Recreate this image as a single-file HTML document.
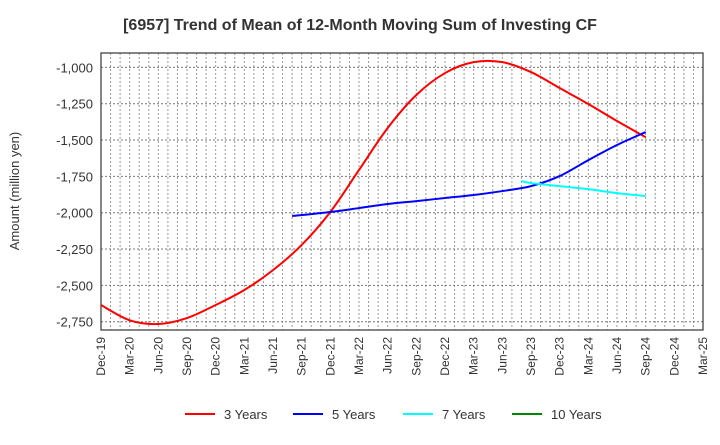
<!DOCTYPE html>
<html><head><meta charset="utf-8"><style>
body{margin:0;background:#fff;font-family:"Liberation Sans",sans-serif}
svg text{font-family:"Liberation Sans",sans-serif;fill:#333}
</style></head><body>
<svg id="c" width="720" height="440"></svg>
<script>
const xLabels=["Dec-19","Mar-20","Jun-20","Sep-20","Dec-20","Mar-21","Jun-21","Sep-21","Dec-21","Mar-22","Jun-22","Sep-22","Dec-22","Mar-23","Jun-23","Sep-23","Dec-23","Mar-24","Jun-24","Sep-24","Dec-24","Mar-25"];
const yTicks=[-1000,-1250,-1500,-1750,-2000,-2250,-2500,-2750];
const s3Start=0;
const s3=[-2635,-2740,-2766,-2725,-2635,-2532,-2395,-2222,-1995,-1706,-1417,-1190,-1039,-964,-964,-1032,-1142,-1252,-1369,-1480];
const s5Months=[20,24,27,30,33,36,39,42,45,48,51,54,57];
const s5=[-2023,-1995,-1968,-1940,-1920,-1899,-1878,-1851,-1817,-1748,-1638,-1534,-1445];
const s7Months=[44,45,48,51,54,57];
const s7=[-1782,-1796,-1817,-1838,-1865,-1885];
const svg=document.getElementById('c');const NS='http://www.w3.org/2000/svg';
const L=101,R=703,T=53,B=330,Y0=-901,Y1=-2807,M=63;
const xs=m=>L+(R-L)*m/M;const ys=v=>T+(B-T)*(v-Y0)/(Y1-Y0);
function el(t,a,p){const e=document.createElementNS(NS,t);for(const k in a)e.setAttribute(k,a[k]);(p||svg).appendChild(e);return e;}
let e;
e=el('text',{x:360,y:30,'text-anchor':'middle','font-size':16,'font-weight':'bold'});e.textContent='[6957]  Trend of Mean of 12-Month Moving Sum of Investing CF';


for(let m=1;m<M;m++){e=el('line',{x1:xs(m),x2:xs(m),y1:T,y2:B,stroke:'#999','stroke-dasharray':'2,2','stroke-width':1});

}
yTicks.forEach(v=>{e=el('line',{x1:L,x2:R,y1:ys(v),y2:ys(v),stroke:'#777','stroke-dasharray':'2,2','stroke-width':1});


e=el('text',{x:L-8,y:ys(v)+5,'text-anchor':'end','font-size':13});e.textContent=v.toLocaleString('en-US');

});
xLabels.forEach((s,i)=>{const x=xs(i*3);e=el('text',{transform:`translate(${x+4},337) rotate(-90)`,'text-anchor':'end','font-size':12});e.textContent=s;

});
e=el('rect',{x:L,y:T,width:R-L,height:B-T,fill:'none',stroke:'#444','stroke-width':1.3});


e=el('text',{transform:'translate(19,191) rotate(-90)','text-anchor':'middle','font-size':13});e.textContent='Amount (million yen)';


function path(pts){let d=`M${pts[0][0]},${pts[0][1]}`;for(let i=0;i<pts.length-1;i++){const p0=pts[i-1]||pts[i],p1=pts[i],p2=pts[i+1],p3=pts[i+2]||p2;
d+=` C${p1[0]+(p2[0]-p0[0])/6},${p1[1]+(p2[1]-p0[1])/6} ${p2[0]-(p3[0]-p1[0])/6},${p2[1]-(p3[1]-p1[1])/6} ${p2[0]},${p2[1]}`;}return d;}
const p3=s3.map((v,i)=>[xs(s3Start+i*3),ys(v)]);
e=el('path',{d:path(p3),fill:'none',stroke:'#f00','stroke-width':2});


const p5=s5.map((v,i)=>[xs(s5Months[i]),ys(v)]);
e=el('path',{d:path(p5),fill:'none',stroke:'#00f','stroke-width':2});


const p7=s7.map((v,i)=>[xs(s7Months[i]),ys(v)]);
e=el('path',{d:path(p7),fill:'none',stroke:'#0ff','stroke-width':2});


const leg=[['3 Years','#f00',185],['5 Years','#00f',293],['7 Years','#0ff',403],['10 Years','#080',512]];
leg.forEach(([t,c,x])=>{const g=el('g',{});


el('line',{x1:x,x2:x+30,y1:414,y2:414,stroke:c,'stroke-width':2},g);
const tx=el('text',{x:x+39,y:419,'font-size':13},g);tx.textContent=t;});
</script></body></html>
